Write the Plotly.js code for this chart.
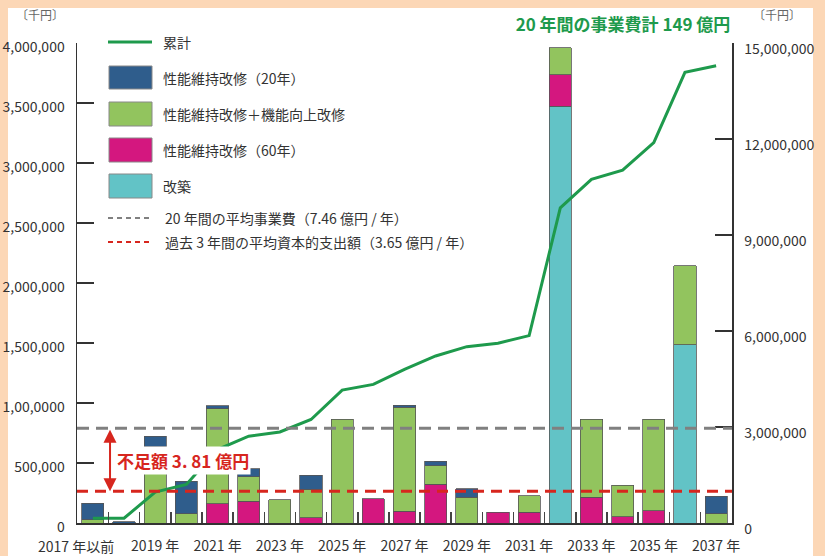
<!DOCTYPE html>
<html>
<head>
<meta charset="utf-8">
<script src="https://cdn.plot.ly/plotly-3.0.1.min.js"></script>
<style>
  html, body { margin: 0; padding: 0; background: #FCD7B6; width: 825px; height: 556px; overflow: hidden; }
  #chart { position: absolute; left: 0; top: 0; width: 825px; height: 556px; }
</style>
</head>
<body>
<div id="chart"></div>
<script>
// ---- data (thousand yen) ----
const categories = ["2017年以前","2018年","2019年","2020年","2021年","2022年","2023年","2024年","2025年","2026年","2027年",
                    "2028年","2029年","2030年","2031年","2032年","2033年","2034年","2035年","2036年","2037年"];
const tickLabels = ["2017 年以前","2019 年","2021 年","2023 年","2025 年","2027 年","2029 年","2031 年","2033 年","2035 年","2037 年"];
const rebuild    = [null,null,null,null,null,null,null,null,null,null,null,null,null,null,null,3473000,null,null,null,1485000,null];
const maint60    = [null,null,null,null,160000,182000,null,43000,null,204000,98000,321000,null,88000,88000,262000,215000,54000,104000,null,null];
const maintPlus  = [27000,null,637000,77000,794000,205000,193000,239000,865000,null,867000,156000,215000,null,139000,225000,650000,261000,761000,658000,77000];
const maint20    = [138000,10000,84000,271000,23000,67000,null,116000,null,null,17000,38000,72000,null,null,null,null,null,null,null,144000];
const cumulative = [150000,150000,966000,1207000,2295000,2712000,2846000,3235000,4154000,4332000,4803000,5220000,5511000,5618000,5856000,
                    9850000,10737000,11028000,11887000,14082000,14289000];
const avg20 = 790000;
const avgPast3 = 265000;
const leftTicks = [0,500000,1000000,1500000,2000000,2500000,3000000,3500000,4000000];
const leftTickText = ["0","500,000","1,00,0000","1,500,000","2,000,000","2,500,000","3,000,000","3,500,000","4,000,000"];
const rightTicks = [0,3000000,6000000,9000000,12000000,15000000];
const rightTickText = ["0","3,000,000","6,000,000","9,000,000","12,000,000","15,000,000"];
const names = ["累計","性能維持改修（20年）","性能維持改修＋機能向上改修","性能維持改修（60年）","改築",
               "20 年間の平均事業費（7.46 億円 / 年）","過去 3 年間の平均資本的支出額（3.65 億円 / 年）"];
const titleText = "20 年間の事業費計 149 億円";
const shortfallText = "不足額 3. 81 億円";
const unitText = "〔千円〕";

// ---- styles ----
const C = { line:"#1E9A4C", blue:"#2F5D8C", green:"#92C45E", mag:"#D4177F", cyan:"#62C3C6", gray:"#808080", red:"#D7261E", text:"#333333" };
const FONT = "'Noto Sans CJK JP', 'Noto Sans', sans-serif";
const W=825, H=556, ML=77, MR=93, MT=43, MB=33, PW=W-ML-MR, PH=H-MT-MB;
const px = x => (x-ML)/PW;      // page px -> paper x
const py = y => 1-(y-MT)/PH;    // page px -> paper y

const idx = categories.map((_, i) => i);
const mkBar = (name, y, color) => ({ type:"bar", name, x: idx, y, width: 0.71,
  marker: { color, line: { color:"#555", width: 0.8 } }, hoverinfo:"skip", showlegend:false });

const traces = [
  mkBar(names[4], rebuild, C.cyan),
  mkBar(names[3], maint60, C.mag),
  mkBar(names[2], maintPlus, C.green),
  mkBar(names[1], maint20, C.blue),
  { type:"scatter", mode:"lines", name: names[0], x: idx, y: cumulative, yaxis:"y2",
    line: { color: C.line, width: 3 }, showlegend:false, hoverinfo:"skip" },
  { type:"scatter", x:[0], y:[0], xaxis:"x2", yaxis:"y", mode:"markers", marker:{ opacity:0 }, showlegend:false, hoverinfo:"skip" }
];

const shapes = [
  // white card over peach page background
  { type:"rect", layer:"below", xref:"paper", yref:"paper", x0:px(8), x1:px(813), y0:py(560), y1:py(8), fillcolor:"#ffffff", line:{ width:0 } },
  { type:"line", xref:"paper", x0:0, x1:1, yref:"y", y0:avg20, y1:avg20, line:{ color:C.gray, width:3, dash:"12px,7px" } },
  { type:"line", xref:"paper", x0:0, x1:1, yref:"y", y0:avgPast3, y1:avgPast3, line:{ color:C.red, width:3, dash:"11px,7px" } },
  // custom legend swatches
  { type:"line", xref:"paper", yref:"paper", x0:px(108), x1:px(152), y0:py(42), y1:py(42), line:{ color:C.line, width:3 } },
  { type:"rect", xref:"paper", yref:"paper", x0:px(109), x1:px(152), y0:py(89), y1:py(66), fillcolor:C.blue, line:{ color:"#888", width:1 } },
  { type:"rect", xref:"paper", yref:"paper", x0:px(109), x1:px(152), y0:py(126), y1:py(102), fillcolor:C.green, line:{ color:"#888", width:1 } },
  { type:"rect", xref:"paper", yref:"paper", x0:px(109), x1:px(152), y0:py(162), y1:py(138), fillcolor:C.mag, line:{ color:"#888", width:1 } },
  { type:"rect", xref:"paper", yref:"paper", x0:px(109), x1:px(152), y0:py(198), y1:py(174), fillcolor:C.cyan, line:{ color:"#888", width:1 } },
  { type:"line", xref:"paper", yref:"paper", x0:px(108), x1:px(150), y0:py(218), y1:py(218), line:{ color:C.gray, width:2, dash:"5px,4px" } },
  { type:"line", xref:"paper", yref:"paper", x0:px(108), x1:px(150), y0:py(242), y1:py(242), line:{ color:C.red, width:2, dash:"5px,4px" } }
];

const legY = [42, 78, 114, 150, 186, 218, 242];
const annotations = legY.map((y, i) => ({
  xref:"paper", yref:"paper", x: px(i >= 5 ? 163 : 161), y: py(y), xanchor:"left", yanchor:"middle",
  text: names[i], showarrow:false, font:{ family:FONT, size:14, color:C.text }
}));
annotations.push(
  { xref:"x", yref:"y", axref:"x", ayref:"y", x:0.55, y:avgPast3, ax:0.55, ay:avg20, text:"",
    showarrow:true, arrowside:"end+start", arrowhead:2, startarrowhead:2, arrowsize:1.3, startarrowsize:1.3,
    arrowwidth:2, arrowcolor:C.red, standoff:0, startstandoff:0 },
  { xref:"x", yref:"y", x:2.9, y:525000, text:"<b>"+shortfallText+"</b>", showarrow:false, bgcolor:"#ffffff",
    font:{ family:FONT, size:17, color:C.red }, borderpad:1 },
  { xref:"paper", yref:"paper", x:px(40), y:py(15), text:unitText, showarrow:false, xanchor:"center", yanchor:"middle",
    font:{ family:FONT, size:12, color:"#666" } },
  { xref:"paper", yref:"paper", x:px(777), y:py(15), text:unitText, showarrow:false, xanchor:"center", yanchor:"middle",
    font:{ family:FONT, size:12, color:"#666" } },
  // first category label, shifted left of its bar like the original
  { xref:"x", yref:"paper", x:0, y:py(546), xshift:-17, text:tickLabels[0], showarrow:false, xanchor:"center", yanchor:"middle",
    font:{ family:FONT, size:14, color:C.text } }
);

const layout = {
  width: W, height: H,
  margin: { l: ML, r: MR, t: MT, b: MB, pad: 0 },
  paper_bgcolor: "#FCD7B6", plot_bgcolor: "rgba(0,0,0,0)",
  barmode: "stack",
  showlegend: false,
  font: { family: FONT, size: 14, color: C.text },
  title: { text: "<b>"+titleText+"</b>", x: px(623), xref:"paper", xanchor:"center", yref:"container", y: 1-25/H, yanchor:"middle",
           font: { family: FONT, size: 17, color: C.line } },
  xaxis: { range: [-0.51, 20.51], tickmode:"array", tickvals: idx.filter(i => i % 2 === 0 && i > 0),
           ticktext: tickLabels.slice(1), tickangle: 0,
           ticks: "", showline: true, linecolor: "#333", linewidth: 1.5, showgrid: false, zeroline: false,
           ticklabelstandoff: 10, tickfont: { family: FONT, size: 14, color: C.text } },
  xaxis2: { overlaying: "x", anchor: "y", side: "bottom", range: [-0.51, 20.51], tickmode: "array",
            tickvals: idx.slice(0, -1).map(i => i + 0.5), ticks: "inside", ticklen: 11, tickwidth: 1.5, tickcolor: "#444",
            showticklabels: false, showgrid: false, zeroline: false, showline: false },
  yaxis: { range: [0, 4000000], tickmode: "array", tickvals: leftTicks, ticktext: leftTickText,
           ticks: "inside", ticklen: 17, tickwidth: 1.5, tickcolor: "#333", showline: true, linecolor: "#333", linewidth: 1.5,
           showgrid: false, zeroline: false, ticklabelstandoff: 8, ticklabelshift: 4,
           tickfont: { family: FONT, size: 14, color: C.text } },
  yaxis2: { overlaying: "y", side: "right", anchor: "x", range: [0, 15000000], tickmode: "array", tickvals: rightTicks, ticktext: rightTickText,
            ticks: "inside", ticklen: 17, tickwidth: 1.5, tickcolor: "#333", showline: true, linecolor: "#333", linewidth: 1.5,
            showgrid: false, zeroline: false, ticklabelstandoff: 8, ticklabelshift: 6,
            tickfont: { family: FONT, size: 14, color: C.text } },
  shapes: shapes,
  annotations: annotations
};

Plotly.newPlot("chart", traces, layout, { displayModeBar: false, staticPlot: true });
</script>
</body>
</html>
